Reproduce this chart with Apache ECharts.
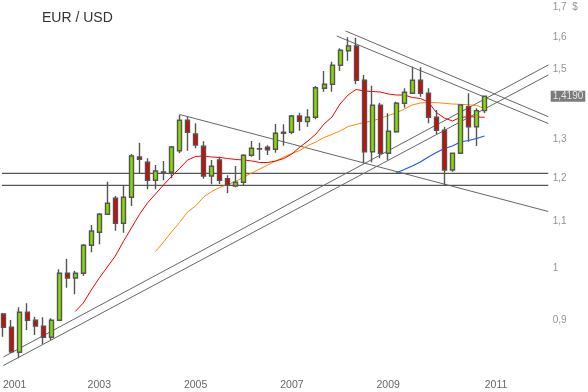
<!DOCTYPE html>
<html><head><meta charset="utf-8">
<script src="https://cdn.jsdelivr.net/npm/echarts@6/dist/echarts.min.js"></script>
<style>html,body{margin:0;padding:0;background:#fff}#c{width:588px;height:392px}</style>
</head><body><div id="c"></div>
<script>
// ---- data (bi-monthly EUR/USD candles, Jan 2001 .. Jan 2011) ----
const chartTitle = 'EUR / USD';
const yearLabels = ['2001','2003','2005','2007','2009','2011'];
const yTickValues = [1.7, 1.6, 1.5, 1.3, 1.2, 1.1, 1.0, 0.9];
const yTickLabels = ['1,7  $','1,6','1,5','1,3','1,2','1,1','1','0,9'];
const lastPrice = 1.419;
const lastPriceLabel = '1,4190';

const openP  = [0.9107,0.8863,0.8424,0.9139,0.8991,0.8883,0.8685,0.8991,0.9894,0.9800,
                0.9894,1.0475,1.0756,1.1157,1.1527,1.0954,1.1550,1.2538,1.2405,1.1958,
                1.2154,1.2154,1.2700,1.3512,1.3140,1.2815,1.2063,1.2462,1.1997,1.1820,
                1.1909,1.2582,1.2745,1.2789,1.2737,1.3158,1.3187,1.3630,1.3474,1.3595,
                1.4422,1.4540,1.5113,1.5570,1.5719,1.4659,1.2675,1.3930,1.2633,1.3200,
                1.3988,1.4275,1.4659,1.4275,1.3595,1.3240,1.2210,1.2633,1.3892,1.3337,1.3779];
const closeP = [0.8863,0.8433,0.9139,0.8991,0.8888,0.8685,0.8991,0.9894,0.9800,0.9894,
                1.0475,1.0785,1.1157,1.1411,1.0954,1.1550,1.2564,1.2480,1.1958,1.2186,
                1.2165,1.2796,1.3512,1.3187,1.2849,1.2063,1.2303,1.1958,1.1836,1.1909,
                1.2582,1.2763,1.2752,1.2726,1.3158,1.3187,1.3630,1.3485,1.3595,1.4439,
                1.4540,1.5113,1.5582,1.5719,1.4659,1.2675,1.3930,1.2633,1.3212,1.3988,
                1.4304,1.4659,1.4275,1.3595,1.3240,1.2210,1.2633,1.3939,1.3337,1.3779,1.4190];
const lowP   = [0.8696,0.8412,0.8322,0.8816,0.8726,0.8568,0.8638,0.8991,0.9609,0.9480,
                0.9846,1.0327,1.0497,1.1157,1.0791,1.0747,1.1348,1.2129,1.1741,1.1741,
                1.1958,1.2007,1.2633,1.2700,1.2763,1.1997,1.1861,1.1868,1.1645,1.1789,
                1.1836,1.2546,1.2462,1.2590,1.2649,1.2831,1.3132,1.3229,1.3337,1.3539,
                1.4322,1.4322,1.4939,1.5256,1.4540,1.2378,1.2405,1.2505,1.2462,1.3175,
                1.3863,1.4275,1.4178,1.3430,1.3140,1.1836,1.2168,1.2633,1.2936,1.2823,1.3705];
const highP  = [0.9126,0.8997,0.9233,0.9308,0.9057,0.9046,0.9028,0.9975,1.0187,0.9946,
                1.0503,1.0917,1.1187,1.1924,1.1581,1.1827,1.2615,1.2909,1.2505,1.2336,
                1.2437,1.2823,1.3659,1.3611,1.3430,1.2946,1.2462,1.2546,1.2080,1.2311,
                1.2607,1.2954,1.2909,1.2842,1.3410,1.3402,1.3659,1.3722,1.3818,1.4490,
                1.4939,1.5225,1.5646,1.6000,1.5987,1.4817,1.4499,1.4005,1.3705,1.4034,
                1.4422,1.5070,1.5052,1.4422,1.3799,1.3337,1.2633,1.3959,1.4275,1.3846,1.4215];

// moving averages
const maRedStart = 9;
const maRed = [0.9153,0.9313,0.9563,0.9800,1.0022,1.0249,1.0556,1.0850,1.1153,1.1417,
               1.1628,1.1844,1.2050,1.2248,1.2462,1.2551,1.2564,1.2539,1.2526,1.2500,
               1.2475,1.2462,1.2437,1.2399,1.2399,1.2437,1.2500,1.2615,1.2797,1.2954,
               1.3140,1.3410,1.3603,1.3968,1.4226,1.4387,1.4343,1.4328,1.4314,1.4255,
               1.4226,1.4226,1.4154,1.4125,1.4025,1.3728,1.3575,1.3493,1.3589,1.3611,1.3603,1.3595];
const maOrangeStart = 19;
const maOrange = [1.0343,1.0545,1.0762,1.0973,1.1210,1.1348,1.1558,1.1688,1.1784,1.1856,
                  1.1928,1.2038,1.2137,1.2236,1.2336,1.2437,1.2539,1.2628,1.2706,1.2836,
                  1.2928,1.3047,1.3127,1.3221,1.3342,1.3397,1.3452,1.3493,1.3562,1.3645,
                  1.3714,1.3826,1.3940,1.3996,1.4011,1.4005,1.3988,1.3968,1.3959,1.3945,1.3925,1.3840];
const maBlueStart = 49;
const maBlue = [1.2144,1.2224,1.2311,1.2412,1.2539,1.2654,1.2757,1.2823,1.2928,1.2967,1.3020,1.3087];

// drawn trend lines (period index, price)
const channelUpper = [[0.05,0.8343],[67.95,1.5123]];
const channelLower = [[0.05,0.8200],[67.95,1.4818]];
const downUpper    = [[42.7,1.6207],[67.95,1.3611]];
const downLower    = [[41.58,1.6043],[67.95,1.3424]];
const down2004     = [[22,1.3673],[67.95,1.1221]];
const levelHigh    = [[-0.16,1.2129],[67.95,1.2129]];
const levelLow     = [[-0.16,1.1836],[67.95,1.1836]];

// ---- build ----
const FONT = 'Liberation Sans, Arial, sans-serif';
const candles = openP.map((o,i)=>[i,o,closeP[i],lowP[i],highP[i]]);
const toSeries = (arr,start)=>arr.map((v,k)=>[start+k,v]);
const lineSeries = (data,color,width)=>({type:'line',data,showSymbol:false,symbol:'none',silent:true,clip:false,
  lineStyle:{color,width},z:3});
const trend = (d,color,width) => ({type:'line',data:d,showSymbol:false,symbol:'none',silent:true,clip:false,
  lineStyle:{color:color||'#666',width:width||1},z:2});

const chart = echarts.init(document.getElementById('c'),null,{renderer:'canvas'});
chart.setOption({
  animation:false,
  backgroundColor:'#fff',
  title:{text:chartTitle,left:42,top:11,padding:0,textStyle:{fontFamily:FONT,fontSize:14,fontWeight:'normal',color:'#333'}},
  grid:{left:1.3,right:39.3,top:0,bottom:20,containLabel:false},
  xAxis:{type:'value',min:0,max:68,interval:12,
    axisLine:{show:false},axisTick:{show:false},splitLine:{show:false},
    axisLabel:{show:true,showMinLabel:true,alignMinLabel:'left',margin:8,fontFamily:FONT,fontSize:10.5,color:'#666',
      formatter:v=>{const k=v/12; if(Number.isInteger(k)&&yearLabels[k]) return k===yearLabels.length-1?'{r|'+yearLabels[k]+'}':yearLabels[k]; return '';},
      rich:{r:{padding:[0,0,0,23],fontFamily:FONT,fontSize:10.5,color:'#666'}}}},
  yAxis:{type:'log',min:0.8092,max:1.7263,position:'right',
    axisLine:{show:false},axisTick:{show:false},splitLine:{show:false},axisLabel:{show:false}},
  series:[
    trend(levelHigh,'#555',1.2),trend(levelLow,'#555',1.2),trend(channelUpper),trend(channelLower),
    trend(downUpper),trend(downLower),trend(down2004),
    lineSeries(toSeries(maOrange,maOrangeStart),'#ff8c00',1),
    lineSeries(toSeries(maRed,maRedStart),'#ff0000',1),
    lineSeries(toSeries(maBlue,maBlueStart),'#1f5ae6',1.2),
    {type:'candlestick',data:candles,encode:{x:0,y:[1,2,3,4]},barWidth:4.5,clip:false,z:4,
      itemStyle:{color:'#86d800',color0:'#cc0a00',borderColor:'#555',borderColor0:'#555',borderColorDoji:'#555',borderWidth:1.4}},
    {type:'scatter',symbolSize:0,silent:true,clip:false,
      data:yTickValues.map((v,i)=>({value:[68,v],label:{formatter:yTickLabels[i]}})),
      label:{show:true,position:'right',distance:4,fontFamily:FONT,fontSize:10,color:'#777'}},
    {type:'scatter',symbolSize:0,silent:true,clip:false,
      data:[[68,lastPrice]],
      label:{show:true,position:'right',distance:2,formatter:lastPriceLabel,fontFamily:FONT,fontSize:10,color:'#fff',
        backgroundColor:'#5a5a5a',padding:[1,2,0,2]}}
  ]
});
</script></body></html>
